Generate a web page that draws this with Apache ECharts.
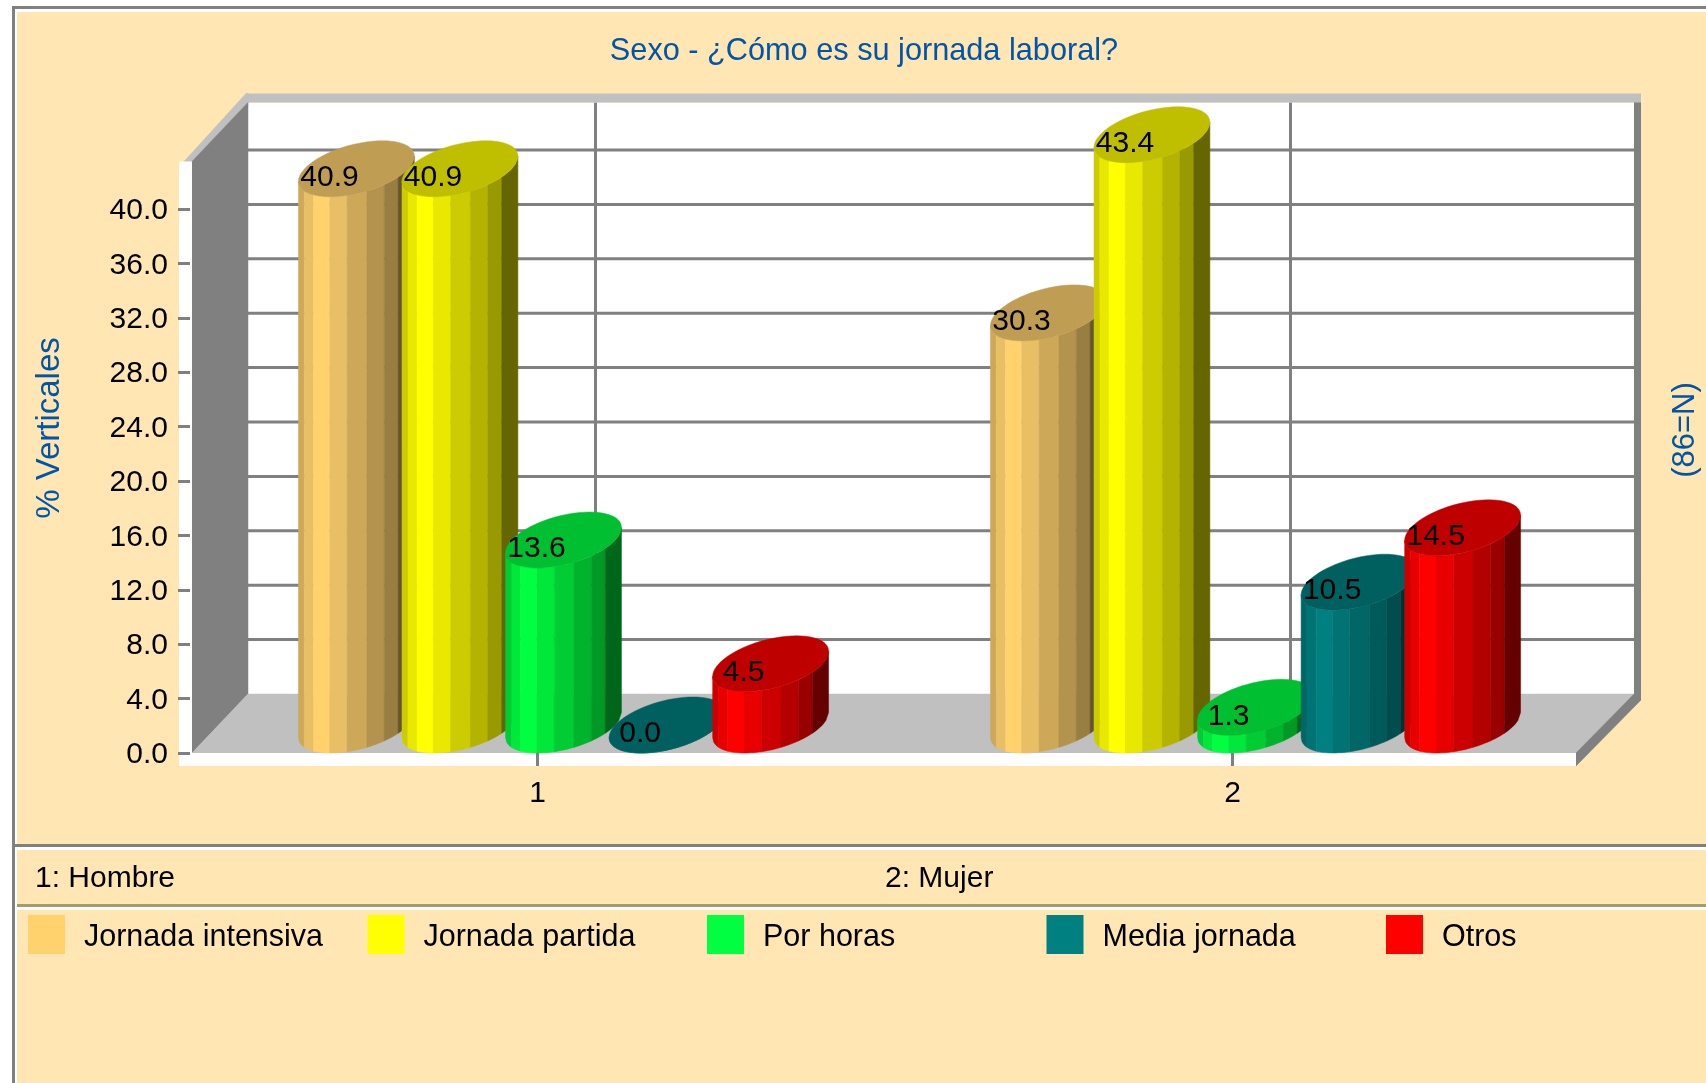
<!DOCTYPE html>
<html>
<head>
<meta charset="utf-8">
<title>Sexo - ¿Cómo es su jornada laboral?</title>
<script src="https://cdn.jsdelivr.net/npm/echarts@6/dist/echarts.min.js"></script>
<style>
html,body{margin:0;padding:0;background:#fff;}
#chart{width:1706px;height:1083px;}
</style>
</head>
<body>
<div id="chart"></div>
<script>
var categories = ['1', '2'];
var categoryNotes = ['1: Hombre', '2: Mujer'];
var seriesNames = ['Jornada intensiva', 'Jornada partida', 'Por horas', 'Media jornada', 'Otros'];
var jornadaIntensiva = [40.9, 30.3];
var jornadaPartida = [40.9, 43.4];
var porHoras = [13.6, 1.3];
var mediaJornada = [0.0, 10.5];
var otros = [4.5, 14.5];
var tickValues = [0, 4, 8, 12, 16, 20, 24, 28, 32, 36, 40];
var seriesColors = [[255, 210, 110], [255, 255, 0], [0, 255, 64], [0, 128, 128], [255, 0, 0]];
var seriesValues = [jornadaIntensiva, jornadaPartida, porHoras, mediaJornada, otros];

var FONT = '"Liberation Sans", Arial, sans-serif';
var BLUE = '#0055a8';
var GREY = '#808080';
var LIGHT = '#c0c0c0';
var PANEL = '#ffe6b3';
var DEPTH_X = 58, DEPTH_Y = 59;

// lit strips across a cylinder, left to right: [end of strip as fraction of width, brightness]
var strips = [[0.05, 0.8], [0.13, 0.91], [0.27, 1], [0.42, 0.91], [0.59, 0.8], [0.74, 0.7], [0.86, 0.6], [1, 0.4]];

function shade(c, f) {
    return 'rgb(' + Math.round(c[0] * f) + ',' + Math.round(c[1] * f) + ',' + Math.round(c[2] * f) + ')';
}

function poly(points, fill) {
    return {
        type: 'polygon',
        shape: {points: points},
        style: {fill: fill, stroke: fill, lineWidth: 0.5}
    };
}

function box(x, y, w, h, fill) {
    return {type: 'rect', shape: {x: x, y: y, width: w, height: h}, style: {fill: fill}};
}

function renderBackdrop(params, api) {
    var sys = params.coordSys;
    var L = sys.x + 2, R = sys.x + sys.width - 4, B = api.coord([0, 0])[1];
    var T = api.coord([0, 43.5])[1];
    var bL = sys.x + DEPTH_X, bR = R + DEPTH_X, bB = B - DEPTH_Y, bT = T - DEPTH_Y;
    var kids = [
        box(bL, bT, bR - bL, bB - bT, '#fff'),
        poly([[L - 8, T], [L, T], [bL, bT + 3], [bL, bT - 9], [bL - 2, bT - 9]], LIGHT),
        poly([[L, T], [bL, bT], [bL, bB], [L, B]], GREY),
        poly([[L, B], [bL, bB], [bR, bB], [R, B]], LIGHT)
    ];
    tickValues.forEach(function (v) {
        if (v === 0) return;
        var y = api.coord([0, v])[1] - DEPTH_Y;
        kids.push(box(bL, y - 1.5, bR - bL, 3, GREY));
    });
    categories.forEach(function (c, i) {
        var x = api.coord([i, 0])[0] + DEPTH_X;
        kids.push(box(x - 1.5, bT, 3, bB - bT, GREY));
    });
    kids.push(box(bR, bT - 6, 7, bB - bT + 12, GREY));
    kids.push(poly([[R, B], [bR, bB], [bR + 7, bB + 6], [R, B + 13]], GREY));
    kids.push(box(bL - 2, bT - 9, bR - bL + 9, 9, LIGHT));
    kids.push(box(L - 13, T, 13, B - T + 13, '#fff'));
    kids.push(box(L - 13, B, R - L + 13, 13, '#fff'));
    return {type: 'group', children: kids};
}

function makeCylinder(index) {
    var color = seriesColors[index];
    return function (params, api) {
        var cat = api.value(0), val = api.value(1);
        var top = api.coord([cat, val]);
        var base = api.coord([cat, 0]);
        var band = api.size([1, 0])[0];
        var step = band * 0.149, a = band * 0.0745, b = 28, k = 26;
        // the second group sits a little left of its tick in the original
        var cx = top[0] + (index - 2) * step + k - cat * 3;
        var cyTop = top[1] - b, cyBase = base[1] - b;
        var r = Math.sqrt(a * a + k * k), phi = Math.atan2(k, a);
        var kids = [];
        var from = 0;
        strips.forEach(function (s) {
            var up = [], down = [];
            for (var j = 0; j <= 6; j++) {
                var f = from + (s[0] - from) * j / 6;
                var u = Math.acos(2 * f - 1);
                var x = cx + r * (2 * f - 1), dy = b * Math.sin(u - phi);
                up.push([x, cyTop + dy]);
                down.unshift([x, cyBase + dy]);
            }
            kids.push(poly(up.concat(down), shade(color, s[1])));
            from = s[0];
        });
        var cap = [];
        for (var t = 0; t < 72; t++) {
            var ang = t / 72 * Math.PI * 2;
            cap.push([cx + a * Math.cos(ang) - k * Math.sin(ang), cyTop + b * Math.sin(ang)]);
        }
        kids.push(poly(cap, shade(color, 0.75)));
        kids.push({
            type: 'text',
            style: {
                text: val.toFixed(1),
                x: cx - r + 31,
                y: top[1] - 19,
                align: 'center',
                verticalAlign: 'middle',
                fill: '#000',
                font: '30px ' + FONT
            }
        });
        return {type: 'group', children: kids};
    };
}

var series = [{
    type: 'custom',
    name: 'fondo',
    z: 1,
    silent: true,
    clip: false,
    coordinateSystem: 'cartesian2d',
    renderItem: renderBackdrop,
    data: [[0, 0]]
}];
seriesNames.forEach(function (name, i) {
    series.push({
        type: 'custom',
        name: name,
        z: 2 + i,
        clip: false,
        coordinateSystem: 'cartesian2d',
        itemStyle: {color: shade(seriesColors[i], 1)},
        renderItem: makeCylinder(i),
        encode: {x: 0, y: 1},
        data: seriesValues[i].map(function (v, c) { return [c, v]; })
    });
});

var legends = seriesNames.map(function (name, i) {
    return {
        data: [name],
        left: 28 + i * 339.5,
        top: 915,
        padding: 0,
        itemWidth: 37,
        itemHeight: 39,
        icon: 'rect',
        selectedMode: false,
        formatter: '{t|{name}}',
        // rich top padding sets the text a few px below the swatch centre
        textStyle: {
            rich: {t: {fontFamily: FONT, fontSize: 30.5, color: '#000', padding: [7, 0, 0, 14]}}
        }
    };
});

function pageText(text, x, y, color, size, rotation) {
    return {
        type: 'text',
        x: x,
        y: y,
        rotation: rotation || 0,
        z: 1,
        style: {text: text, fill: color, font: size + 'px ' + FONT, textAlign: rotation ? 'center' : 'left', textVerticalAlign: 'middle'}
    };
}

function pageBox(x, y, w, h, fill) {
    return {type: 'rect', z: -1, silent: true, shape: {x: x, y: y, width: w, height: h}, style: {fill: fill}};
}

var option = {
    animation: false,
    backgroundColor: '#fff',
    title: {
        text: 'Sexo - ¿Cómo es su jornada laboral?',
        left: 864,
        top: 36,
        textAlign: 'center',
        padding: 0,
        textStyle: {fontFamily: FONT, fontSize: 30.7, fontWeight: 'normal', color: BLUE}
    },
    legend: legends,
    grid: {left: 190, top: 154.6, width: 1390, height: 598.4},
    xAxis: {
        type: 'category',
        data: categories,
        z: 20,
        axisLine: {show: false},
        axisTick: {show: true, alignWithLabel: true, length: 13, lineStyle: {color: GREY, width: 3}},
        axisLabel: {margin: 26, color: '#000', fontFamily: FONT, fontSize: 30},
        splitLine: {show: false}
    },
    yAxis: {
        type: 'value',
        min: 0,
        max: 44,
        interval: 4,
        z: 20,
        axisLine: {show: false},
        axisTick: {show: true, length: 12, customValues: tickValues, lineStyle: {color: GREY, width: 3}},
        axisLabel: {
            customValues: tickValues,
            margin: 22,
            verticalAlign: 'top',
            lineHeight: 4,
            color: '#000',
            fontFamily: FONT,
            fontSize: 30,
            formatter: function (v) { return v.toFixed(1); }
        },
        splitLine: {show: false}
    },
    graphic: [
        pageBox(12, 6, 1694, 3, GREY),
        pageBox(12, 6, 3, 1077, GREY),
        pageBox(17, 12, 1689, 1071, PANEL),
        pageBox(14, 844, 1692, 3, GREY),
        pageBox(17, 847, 1689, 3, '#fff'),
        pageBox(17, 904, 1689, 3, '#a89a70'),
        pageBox(17, 907, 1689, 3, '#fff'),
        pageText('% Verticales', 50, 428, BLUE, 33, Math.PI / 2),
        pageText('(86=N)', 1685, 430, BLUE, 31, Math.PI / 2),
        pageText(categoryNotes[0], 35, 879, '#000', 30),
        pageText(categoryNotes[1], 885, 879, '#000', 30)
    ],
    series: series
};

var mychart = echarts.init(document.getElementById('chart'));
mychart.setOption(option);
</script>
</body>
</html>
